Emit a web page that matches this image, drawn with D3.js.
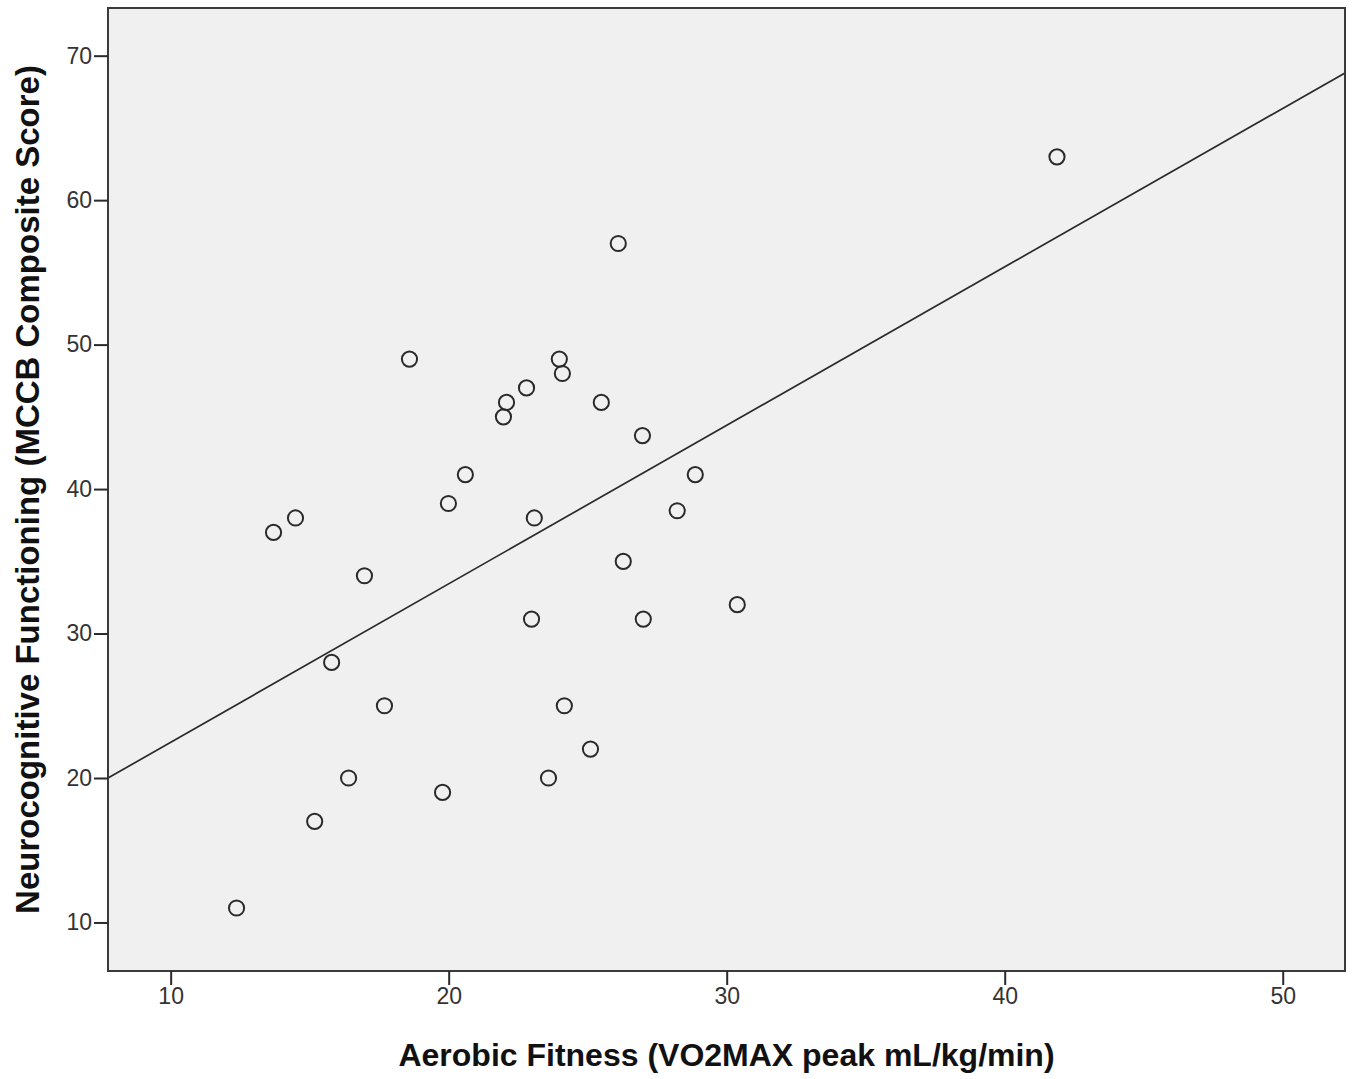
<!DOCTYPE html>
<html><head><meta charset="utf-8">
<script src="https://cdn.jsdelivr.net/npm/d3@7"></script>
<style>body{margin:0;background:#fff;} text{font-family:"Liberation Sans",Arial,sans-serif;}</style>
</head><body>
<svg id="chart" width="1355" height="1079"></svg>
<script>
const xValues = [12.37,13.70,14.49,15.18,15.79,16.40,16.97,17.69,18.59,19.78,19.99,20.60,21.97,22.08,22.80,22.98,23.08,23.59,23.98,24.09,24.16,25.10,25.49,26.10,26.28,26.97,27.00,28.22,28.87,30.38,41.88];
const yValues = [11,37,38,17,28,20,34,25,49,19,39,41,45,46,47,31,38,20,49,48,25,22,46,57,35,43.7,31,38.5,41,32,63];
const xTicks = [10,20,30,40,50];
const yTicks = [10,20,30,40,50,60,70];
const fitIntercept = 11.50, fitSlope = 1.097;
const xTitle = "Aerobic Fitness (VO2MAX peak mL/kg/min)";
const yTitle = "Neurocognitive Functioning (MCCB Composite Score)";

const svg = d3.select("#chart");
const L = 108, R = 1345, T = 8, B = 971;
const x = d3.scaleLinear().domain([7.746, 52.24]).range([L, R]);
const y = d3.scaleLinear().domain([6.64, 73.3]).range([B, T]);

svg.append("rect").attr("x", L).attr("y", T).attr("width", R - L).attr("height", B - T)
  .attr("fill", "#f0f0f0");

svg.append("clipPath").attr("id", "clip").append("rect")
  .attr("x", L).attr("y", T).attr("width", R - L).attr("height", B - T);

const xd = x.domain();
svg.append("line").attr("clip-path", "url(#clip)")
  .attr("x1", x(xd[0])).attr("y1", y(fitIntercept + fitSlope * xd[0]))
  .attr("x2", x(xd[1])).attr("y2", y(fitIntercept + fitSlope * xd[1]))
  .attr("stroke", "#2a2a2a").attr("stroke-width", 1.7);

svg.append("g").selectAll("circle").data(xValues).join("circle")
  .attr("cx", d => x(d)).attr("cy", (d, i) => y(yValues[i])).attr("r", 7.6)
  .attr("fill", "none").attr("stroke", "#2a2a2a").attr("stroke-width", 2);

svg.append("rect").attr("x", L).attr("y", T).attr("width", R - L).attr("height", B - T)
  .attr("fill", "none").attr("stroke", "#3a3a3a").attr("stroke-width", 2);

const xAxis = svg.append("g").attr("transform", `translate(0,${B})`)
  .call(d3.axisBottom(x).tickValues(xTicks).tickSize(14).tickPadding(3).tickFormat(d3.format("d")));
const yAxis = svg.append("g").attr("transform", `translate(${L},0)`)
  .call(d3.axisLeft(y).tickValues(yTicks).tickSize(14).tickPadding(2).tickFormat(d3.format("d")));
[xAxis, yAxis].forEach(a => {
  a.select(".domain").remove();
  a.selectAll(".tick line").attr("stroke", "#2a2a2a").attr("stroke-width", 2);
  a.selectAll(".tick text").attr("fill", "#333").attr("font-size", 23)
    .attr("font-family", "'Liberation Sans',Arial,sans-serif");
});

svg.append("text").attr("x", (L + R) / 2).attr("y", 1066).attr("text-anchor", "middle")
  .attr("font-size", 32).attr("font-weight", "bold").attr("fill", "#111").text(xTitle);
svg.append("text").attr("transform", `translate(39,${(T + B) / 2}) rotate(-90)`).attr("text-anchor", "middle")
  .attr("font-size", 33).attr("font-weight", "bold").attr("fill", "#111").text(yTitle);
</script>
</body></html>
